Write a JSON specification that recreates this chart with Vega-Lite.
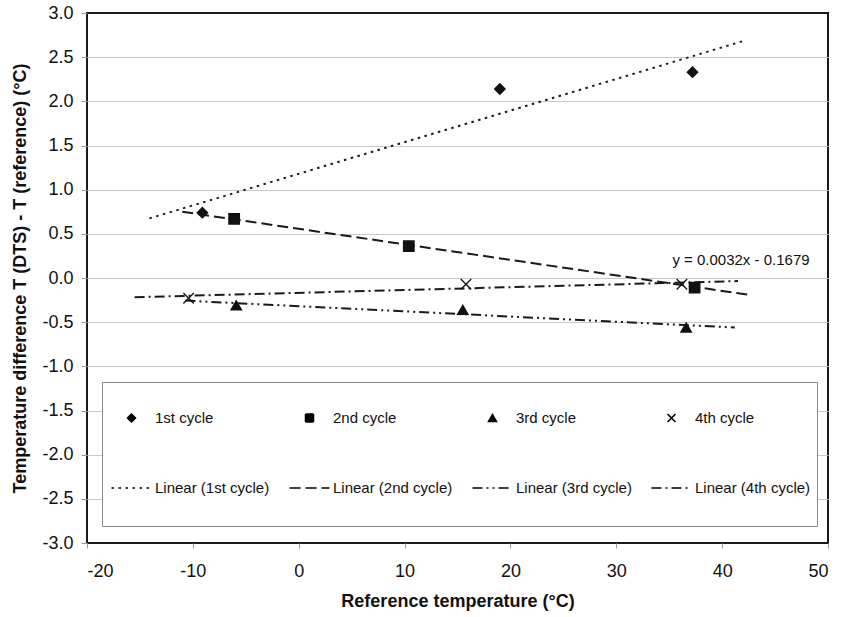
{
  "$schema": "https://vega.github.io/schema/vega-lite/v6.json",
  "width": 741,
  "height": 530,
  "autosize": {"type": "none"},
  "padding": {"left": 87, "top": 13, "right": 15, "bottom": 74},
  "background": "white",
  "config": {
    "font": "Liberation Sans",
    "view": {"stroke": "#1a1a1a", "strokeWidth": 2},
    "axis": {
      "domain": false,
      "labelFont": "Liberation Sans",
      "labelFontSize": 18,
      "labelColor": "#111111",
      "titleFont": "Liberation Sans",
      "titleFontSize": 18,
      "titleFontWeight": "bold",
      "titleColor": "#111111",
      "tickColor": "#999999",
      "tickSize": 5
    }
  },
  "datasets": {
    "points": [
      {"label": "1st cycle", "x": -9.1, "y": 0.74},
      {"label": "1st cycle", "x": 19.0, "y": 2.14},
      {"label": "1st cycle", "x": 37.2, "y": 2.33},
      {"label": "2nd cycle", "x": -6.1, "y": 0.67},
      {"label": "2nd cycle", "x": 10.4, "y": 0.36},
      {"label": "2nd cycle", "x": 37.4, "y": -0.11},
      {"label": "3rd cycle", "x": -5.9, "y": -0.31},
      {"label": "3rd cycle", "x": 15.5, "y": -0.36},
      {"label": "3rd cycle", "x": 36.6, "y": -0.56},
      {"label": "4th cycle", "x": -10.4, "y": -0.23},
      {"label": "4th cycle", "x": 15.8, "y": -0.07},
      {"label": "4th cycle", "x": 36.2, "y": -0.07}
    ],
    "trends": [
      {"label": "Linear (1st cycle)", "x": -14.1, "y": 0.675},
      {"label": "Linear (1st cycle)", "x": 42.2, "y": 2.69},
      {"label": "Linear (2nd cycle)", "x": -11.0, "y": 0.75},
      {"label": "Linear (2nd cycle)", "x": 42.5, "y": -0.19},
      {"label": "Linear (3rd cycle)", "x": -10.7, "y": -0.256},
      {"label": "Linear (3rd cycle)", "x": 41.2, "y": -0.561},
      {"label": "Linear (4th cycle)", "x": -15.5, "y": -0.2175},
      {"label": "Linear (4th cycle)", "x": 41.5, "y": -0.035}
    ],
    "annot": [
      {"x": 35.3, "y": 0.2, "text": "y = 0.0032x - 0.1679"}
    ]
  },
  "encoding": {
    "x": {
      "field": "x",
      "type": "quantitative",
      "scale": {"domain": [-20, 50], "nice": false, "zero": false},
      "axis": {
        "values": [-20, -10, 0, 10, 20, 30, 40, 50],
        "format": "d",
        "labelExpr": "replace(datum.label, '−', '-')",
        "grid": false,
        "title": "Reference temperature (°C)",
        "labelPadding": 14,
        "titlePadding": 12
      }
    },
    "y": {
      "field": "y",
      "type": "quantitative",
      "scale": {"domain": [-3, 3], "nice": false, "zero": false},
      "axis": {
        "values": [-3, -2.5, -2, -1.5, -1, -0.5, 0, 0.5, 1, 1.5, 2, 2.5, 3],
        "format": ".1f",
        "labelExpr": "replace(datum.label, '−', '-')",
        "grid": true,
        "gridColor": {"condition": {"test": "abs(datum.value) > 2.9", "value": "transparent"}, "value": "#c8c8c8"},
        "gridWidth": 1,
        "title": "Temperature difference T (DTS) - T (reference) (°C)",
        "labelPadding": 8,
        "tickSize": 6,
        "titlePadding": 12
      }
    }
  },
  "layer": [
    {
      "data": {"name": "trends"},
      "mark": {"type": "line", "color": "#1a1a1a", "strokeWidth": 2},
      "encoding": {
        "strokeDash": {
          "field": "label",
          "type": "nominal",
          "scale": {
            "domain": ["1st cycle", "2nd cycle", "3rd cycle", "4th cycle", "Linear (1st cycle)", "Linear (2nd cycle)", "Linear (3rd cycle)", "Linear (4th cycle)"],
            "range": [[1, 0], [1, 0], [1, 0], [1, 0], [2.5, 4.5], [11, 5], [10, 4, 2, 4, 2, 4], [10, 4, 2, 4]]
          },
          "legend": {
            "title": null, "orient": "none", "legendX": 15, "legendY": 369,
            "direction": "horizontal", "columns": 4,
            "padding": 6, "strokeColor": "#8c8c8c", "fillColor": "white",
            "labelFontSize": 15, "labelFont": "Liberation Sans", "labelColor": "#111111",
            "symbolSize": 64, "symbolOffset": 16, "labelOffset": 16, "columnPadding": 16, "rowPadding": 6,
            "symbolFillColor": "black", "symbolStrokeColor": "black", "symbolStrokeWidth": 1.5,
            "encode": {
              "labels": {"update": {"y": {"value": 30}}},
              "symbols": {"update": {
                "y": {"value": 30},
                "stroke": {"value": "black"},
                "strokeWidth": {"value": 1.5},
                "opacity": {"value": 1}
              }}
            }
          }
        }
      }
    },
    {
      "data": {"name": "points"},
      "mark": {"type": "point", "filled": true, "color": "#111111", "stroke": "#111111", "strokeWidth": 1.3, "size": 110, "opacity": 1},
      "encoding": {
        "shape": {
          "field": "label",
          "type": "nominal",
          "scale": {
            "domain": ["1st cycle", "2nd cycle", "3rd cycle", "4th cycle", "Linear (1st cycle)", "Linear (2nd cycle)", "Linear (3rd cycle)", "Linear (4th cycle)"],
            "range": [
              "M0,-1L1,0L0,1L-1,0ZM0,-7.25M0,7.25",
              "M-1,-1L1,-1L1,1L-1,1ZM0,-7.25M0,7.25",
              "M0,-0.866L1,0.866L-1,0.866ZM0,-7.25M0,7.25",
              "M-1,-1L1,1M1,-1L-1,1M0,-7.25M0,7.25",
              "M-5,0L5,0M0,-7.25M0,7.25",
              "M-5,0L5,0M0,-7.25M0,7.25",
              "M-5,0L5,0M0,-7.25M0,7.25",
              "M-5,0L5,0M0,-7.25M0,7.25"
            ]
          },
          "legend": {
            "title": null, "orient": "none", "legendX": 15, "legendY": 369,
            "direction": "horizontal", "columns": 4,
            "padding": 6, "strokeColor": "#8c8c8c", "fillColor": "white",
            "labelFontSize": 15, "labelFont": "Liberation Sans", "labelColor": "#111111",
            "symbolSize": 64, "symbolOffset": 16, "labelOffset": 16, "columnPadding": 16, "rowPadding": 6,
            "symbolFillColor": "black", "symbolStrokeColor": "black", "symbolStrokeWidth": 1.5,
            "encode": {
              "labels": {"update": {"y": {"value": 30}}},
              "symbols": {"update": {
                "y": {"value": 30},
                "stroke": {"value": "black"},
                "strokeWidth": {"value": 1.5},
                "opacity": {"value": 1}
              }}
            }
          }
        }
      }
    },
    {
      "data": {"name": "annot"},
      "mark": {"type": "text", "align": "left", "baseline": "middle", "fontSize": 15, "font": "Liberation Sans", "color": "#111111"},
      "encoding": {"text": {"field": "text"}}
    }
  ]
}
